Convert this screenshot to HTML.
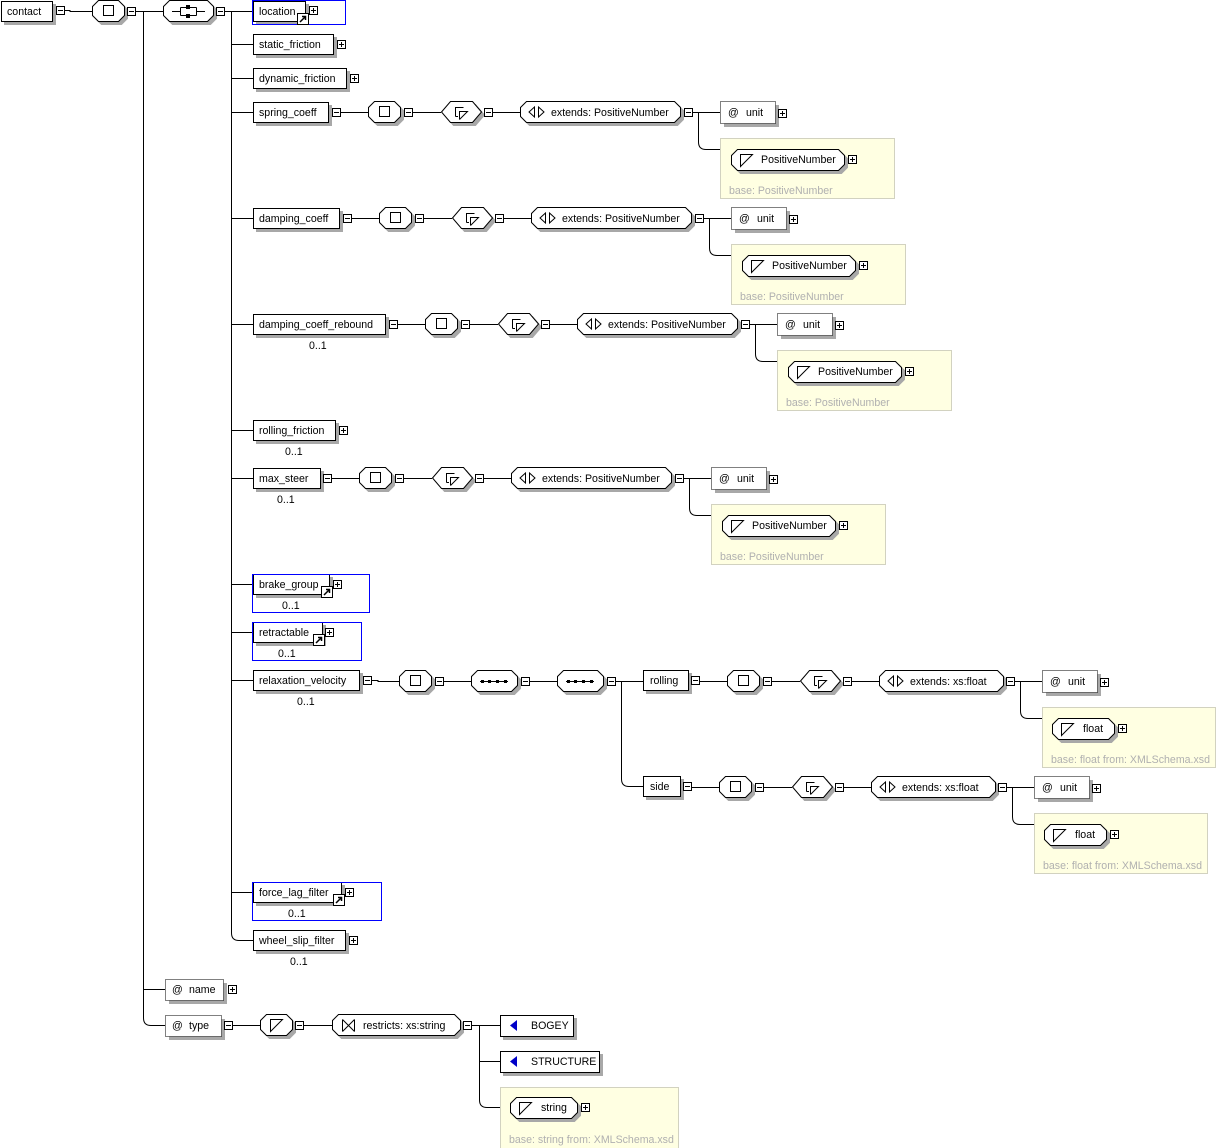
<!DOCTYPE html>
<html><head><meta charset="utf-8"><style>
html,body{margin:0;padding:0;background:#fff;}
svg{display:block;font-family:"Liberation Sans",sans-serif;font-size:10.6px;}
.s{filter:drop-shadow(3px 3px 0 #a8a8a8);}
.ln{stroke:#000;fill:none;}
.b{fill:#fff;stroke:#000;}
.d{fill:#fff;stroke:#000;stroke-dasharray:1 1;shape-rendering:crispEdges;}
.sh{fill:#a8a8a8;}
.y{fill:#ffffe2;stroke:#d2d2c0;shape-rendering:crispEdges;}
.g{fill:#b0b0b0;}
.bl{fill:none;stroke:#0000ff;shape-rendering:crispEdges;}
rect{shape-rendering:crispEdges;}
</style></head><body>
<svg width="1217" height="1148" viewBox="0 0 1217 1148" xmlns="http://www.w3.org/2000/svg">
<defs>
<g id="mi"><rect x="0.5" y="0.5" width="8" height="8" fill="#fff" stroke="#000"/><path d="M2 4.5H7" stroke="#000"/></g>
<g id="pl"><rect x="0.5" y="0.5" width="8" height="8" fill="#fff" stroke="#000"/><path d="M2 4.5H7M4.5 2V7" stroke="#000"/></g>
<g id="sq"><polygon class="b s" points="6.5,0.5 26.5,0.5 32.5,6.5 32.5,15.5 26.5,21.5 6.5,21.5 0.5,15.5 0.5,6.5"/><rect x="11.5" y="5.5" width="10" height="10" fill="#fff" stroke="#000"/></g>
<g id="ct"><polygon class="b s" points="0.5,11 9.5,0.5 31.5,0.5 40.5,11 31.5,21.5 9.5,21.5"/><path class="ln" d="M14.5 15.5V6.5H22.5M18.5 18.5V10.5H26.5L18.5 18.5M14.5 15.5H17"/></g>
<g id="dq"><polygon class="b s" points="6.5,0.5 40.5,0.5 46.5,6.5 46.5,15.5 40.5,21.5 6.5,21.5 0.5,15.5 0.5,6.5"/><path d="M9 11.5H37" stroke="#000"/><rect x="10" y="10" width="3" height="3"/><rect x="17" y="10" width="3" height="3"/><rect x="25" y="10" width="3" height="3"/><rect x="33" y="10" width="3" height="3"/></g>
<g id="tri"><path class="ln" d="M0.5 0.5H12.5L0.5 12.5Z"/></g>
<g id="ref"><rect x="0.5" y="0.5" width="11" height="11" fill="#fff" stroke="#000"/><path d="M3 9L8 4M5 3.5H8.5V7" stroke="#000" stroke-width="1.5" fill="none"/></g>
<g id="head">
<path class="ln" d="M5 0.5H32M77 0.5H105M157 0.5H184"/>
<use href="#sq" x="32" y="-11"/>
<use href="#mi" x="68" y="-4"/>
<use href="#ct" x="105" y="-11"/>
<use href="#mi" x="148" y="-4"/>
</g>
<g id="pn">
<use href="#head"/>
<polygon class="b s" points="190.5,-10.5 338.5,-10.5 344.5,-4.5 344.5,4.5 338.5,10.5 190.5,10.5 184.5,4.5 184.5,-4.5"/>
<path class="ln" d="M198.5 -5L193 0L198.5 5ZM202.5 -5L208 0L202.5 5Z"/>
<use href="#mi" x="348" y="-4"/>
<path class="ln" d="M357 0.5H384M362.5 0.5V30Q362.5 37.5 370 37.5H384"/>
<rect class="sh" x="388" y="-7" width="55" height="22"/>
<rect class="d" x="384.5" y="-10.5" width="55" height="22"/>
<use href="#pl" x="442" y="-3"/>
<rect class="y" x="384.5" y="26.5" width="174" height="60"/>
<polygon class="b s" points="401.5,37.5 502.5,37.5 508.5,43.5 508.5,52.5 502.5,58.5 401.5,58.5 395.5,52.5 395.5,43.5"/>
<use href="#tri" x="404" y="42"/>
<use href="#pl" x="512" y="43"/>
</g>
<g id="fl">
<use href="#head"/>
<polygon class="b s" points="190.5,-10.5 302.5,-10.5 308.5,-4.5 308.5,4.5 302.5,10.5 190.5,10.5 184.5,4.5 184.5,-4.5"/>
<path class="ln" d="M198.5 -5L193 0L198.5 5ZM202.5 -5L208 0L202.5 5Z"/>
<use href="#mi" x="311" y="-4"/>
<path class="ln" d="M320 0.5H347M325.5 0.5V30Q325.5 37.5 333 37.5H347"/>
<rect class="sh" x="351" y="-7" width="55" height="22"/>
<rect class="d" x="347.5" y="-10.5" width="55" height="22"/>
<use href="#pl" x="405" y="-3"/>
<rect class="y" x="347.5" y="26.5" width="173" height="60"/>
<polygon class="b s" points="363.5,37.5 413.5,37.5 419.5,43.5 419.5,52.5 413.5,58.5 363.5,58.5 357.5,52.5 357.5,43.5"/>
<use href="#tri" x="366" y="42"/>
<use href="#pl" x="423" y="43"/>
</g>
</defs>

<path class="ln" d="M64 10.5H70V11.5H92M135 11.5H163M143.5 11.5V1018Q143.5 1025.5 151 1025.5H165M143.5 989.5H165M224 11.5H253M231.5 11.5V933Q231.5 940.5 239 940.5H253"/>
<path class="ln" d="M231.5 44.5H253M231.5 78.5H253M231.5 112.5H253M231.5 218.5H253M231.5 324.5H253M231.5 430.5H253M231.5 478.5H253M231.5 584.5H253M231.5 632.5H253M231.5 680.5H253M231.5 892.5H253"/>

<rect class="b s" x="1.5" y="1.5" width="51" height="20"/>
<text x="7" y="15">contact</text>
<use href="#mi" x="56" y="6"/>
<use href="#sq" x="92" y="0"/>
<use href="#mi" x="127" y="7"/>
<polygon class="b s" points="169.5,0.5 207.5,0.5 213.5,6.5 213.5,15.5 207.5,21.5 169.5,21.5 163.5,15.5 163.5,6.5"/>
<path class="ln" d="M172 11.5H180M197 11.5H205M180.5 7.5V15.5M196.5 7.5V15.5M180.5 7.5H196.5M180.5 15.5H196.5"/>
<rect x="186" y="5" width="4" height="4"/><rect x="186" y="14" width="4" height="4"/>
<use href="#mi" x="216" y="7"/>

<rect class="b s" x="253.5" y="1.5" width="52" height="20"/>
<rect class="bl" x="252.5" y="0.5" width="93" height="24"/>
<text x="259" y="15">location</text>
<use href="#ref" x="297" y="13"/>
<use href="#pl" x="309" y="6"/>

<rect class="b s" x="253.5" y="34.5" width="80" height="20"/>
<text x="259" y="48">static_friction</text>
<use href="#pl" x="337" y="40"/>

<rect class="b s" x="253.5" y="68.5" width="93" height="20"/>
<text x="259" y="82">dynamic_friction</text>
<use href="#pl" x="350" y="74"/>

<rect class="b s" x="253.5" y="102.5" width="75" height="20"/>
<text x="259" y="116">spring_coeff</text>
<use href="#mi" x="332" y="108"/>
<g transform="translate(336,112)"><use href="#pn"/>
<text x="215" y="4">extends: PositiveNumber</text><text x="392" y="4">@</text><text x="410" y="4">unit</text>
<text x="425" y="51">PositiveNumber</text><text class="g" x="393" y="82">base: PositiveNumber</text></g>

<rect class="b s" x="253.5" y="208.5" width="86" height="20"/>
<text x="259" y="222">damping_coeff</text>
<use href="#mi" x="343" y="214"/>
<g transform="translate(347,218)"><use href="#pn"/>
<text x="215" y="4">extends: PositiveNumber</text><text x="392" y="4">@</text><text x="410" y="4">unit</text>
<text x="425" y="51">PositiveNumber</text><text class="g" x="393" y="82">base: PositiveNumber</text></g>

<rect class="b s" x="253.5" y="314.5" width="132" height="20"/>
<text x="259" y="328">damping_coeff_rebound</text>
<text x="309" y="349">0..1</text>
<use href="#mi" x="389" y="320"/>
<g transform="translate(393,324)"><use href="#pn"/>
<text x="215" y="4">extends: PositiveNumber</text><text x="392" y="4">@</text><text x="410" y="4">unit</text>
<text x="425" y="51">PositiveNumber</text><text class="g" x="393" y="82">base: PositiveNumber</text></g>

<rect class="b s" x="253.5" y="420.5" width="82" height="20"/>
<text x="259" y="434">rolling_friction</text>
<text x="285" y="455">0..1</text>
<use href="#pl" x="339" y="426"/>

<rect class="b s" x="253.5" y="468.5" width="67" height="20"/>
<text x="259" y="482">max_steer</text>
<text x="277" y="503">0..1</text>
<use href="#mi" x="323" y="474"/>
<g transform="translate(327,478)"><use href="#pn"/>
<text x="215" y="4">extends: PositiveNumber</text><text x="392" y="4">@</text><text x="410" y="4">unit</text>
<text x="425" y="51">PositiveNumber</text><text class="g" x="393" y="82">base: PositiveNumber</text></g>

<rect class="b s" x="253.5" y="574.5" width="76" height="20"/>
<rect class="bl" x="252.5" y="574.5" width="117" height="38"/>
<text x="259" y="588">brake_group</text>
<text x="282" y="609">0..1</text>
<use href="#ref" x="321" y="586"/>
<use href="#pl" x="333" y="580"/>

<rect class="b s" x="253.5" y="622.5" width="69" height="20"/>
<rect class="bl" x="252.5" y="622.5" width="109" height="38"/>
<text x="259" y="636">retractable</text>
<text x="278" y="657">0..1</text>
<use href="#ref" x="313" y="634"/>
<use href="#pl" x="325" y="628"/>

<rect class="b s" x="253.5" y="670.5" width="106" height="20"/>
<text x="259" y="684">relaxation_velocity</text>
<text x="297" y="705">0..1</text>
<use href="#mi" x="363" y="676"/>
<path class="ln" d="M372 680.5H378V681.5H399M444 681.5H471M530 681.5H557M616 681.5H643M621.5 681.5V779Q621.5 786.5 629 786.5H643"/>
<use href="#sq" x="399" y="670"/>
<use href="#mi" x="435" y="677"/>
<use href="#dq" x="471" y="670"/>
<use href="#mi" x="521" y="677"/>
<use href="#dq" x="557" y="670"/>
<use href="#mi" x="607" y="677"/>

<rect class="b s" x="643.5" y="670.5" width="45" height="20"/>
<text x="650" y="684">rolling</text>
<use href="#mi" x="691" y="676"/>
<g transform="translate(695,681)"><use href="#fl"/>
<text x="215" y="4">extends: xs:float</text><text x="355" y="4">@</text><text x="373" y="4">unit</text>
<text x="388" y="51">float</text><text class="g" x="356" y="82">base: float from: XMLSchema.xsd</text></g>

<rect class="b s" x="643.5" y="776.5" width="37" height="20"/>
<text x="650" y="790">side</text>
<use href="#mi" x="683" y="782"/>
<g transform="translate(687,787)"><use href="#fl"/>
<text x="215" y="4">extends: xs:float</text><text x="355" y="4">@</text><text x="373" y="4">unit</text>
<text x="388" y="51">float</text><text class="g" x="356" y="82">base: float from: XMLSchema.xsd</text></g>

<rect class="b s" x="253.5" y="882.5" width="88" height="20"/>
<rect class="bl" x="252.5" y="882.5" width="129" height="38"/>
<text x="259" y="896">force_lag_filter</text>
<text x="288" y="917">0..1</text>
<use href="#ref" x="333" y="894"/>
<use href="#pl" x="345" y="888"/>

<rect class="b s" x="253.5" y="930.5" width="92" height="20"/>
<text x="259" y="944">wheel_slip_filter</text>
<text x="290" y="965">0..1</text>
<use href="#pl" x="349" y="936"/>

<rect class="sh" x="169" y="983" width="58" height="21"/>
<rect class="d" x="165.5" y="979.5" width="58" height="21"/>
<text x="172" y="993">@</text><text x="189" y="993">name</text>
<use href="#pl" x="228" y="985"/>

<rect class="sh" x="169" y="1019" width="56" height="21"/>
<rect class="d" x="165.5" y="1015.5" width="56" height="21"/>
<text x="172" y="1029">@</text><text x="189" y="1029">type</text>
<use href="#mi" x="224" y="1021"/>
<path class="ln" d="M233 1025.5H260M304 1025.5H332M472 1025.5H500M479.5 1025.5V1100Q479.5 1107.5 487 1107.5H500M479.5 1061.5H500"/>
<polygon class="b s" points="266.5,1014.5 286.5,1014.5 292.5,1020.5 292.5,1029.5 286.5,1035.5 266.5,1035.5 260.5,1029.5 260.5,1020.5"/>
<use href="#tri" x="270" y="1019"/>
<use href="#mi" x="295" y="1021"/>
<polygon class="b s" points="338.5,1014.5 454.5,1014.5 460.5,1020.5 460.5,1029.5 454.5,1035.5 338.5,1035.5 332.5,1029.5 332.5,1020.5"/>
<path class="ln" d="M342.5 1019.5V1031.5M354.5 1019.5V1031.5M342.5 1019.5L354.5 1031.5M354.5 1019.5L342.5 1031.5"/>
<text x="363" y="1029">restricts: xs:string</text>
<use href="#mi" x="463" y="1021"/>

<rect class="b s" x="500.5" y="1015.5" width="73" height="21"/>
<path d="M517 1020V1031L510 1025.5Z" fill="#0000c8"/>
<text x="531" y="1029">BOGEY</text>
<rect class="b s" x="500.5" y="1051.5" width="99" height="21"/>
<path d="M517 1056V1067L510 1061.5Z" fill="#0000c8"/>
<text x="531" y="1065">STRUCTURE</text>

<rect class="y" x="500.5" y="1087.5" width="178" height="62"/>
<polygon class="b s" points="516.5,1097.5 571.5,1097.5 577.5,1103.5 577.5,1112.5 571.5,1118.5 516.5,1118.5 510.5,1112.5 510.5,1103.5"/>
<use href="#tri" x="519" y="1102"/>
<text x="541" y="1111">string</text>
<use href="#pl" x="581" y="1103"/>
<text class="g" x="509" y="1143">base: string from: XMLSchema.xsd</text>
</svg>
</body></html>
